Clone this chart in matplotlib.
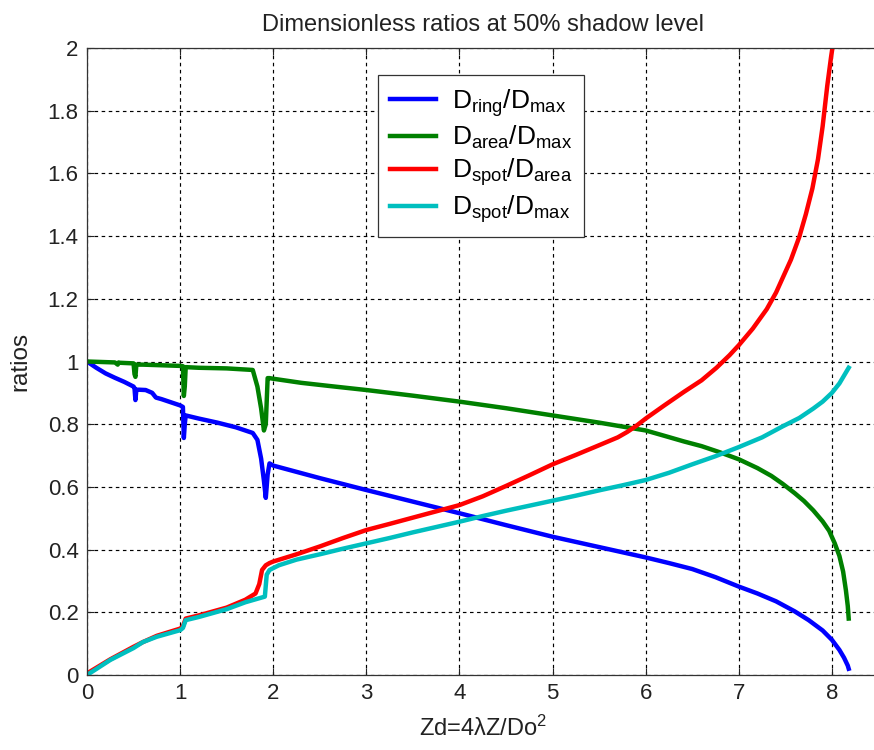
import matplotlib
matplotlib.use("Agg")
import matplotlib.pyplot as plt
from matplotlib.ticker import FixedLocator, FuncFormatter

plt.rcParams['font.family'] = ['Liberation Sans', 'DejaVu Sans']
plt.rcParams['mathtext.fontset'] = 'custom'
plt.rcParams['mathtext.rm'] = 'Liberation Sans'
plt.rcParams['mathtext.it'] = 'Liberation Sans'
plt.rcParams['mathtext.default'] = 'regular'

# ---------------- data ----------------
ring_x = [0, 0.1, 0.2, 0.3, 0.4, 0.5, 0.51, 0.52, 0.53, 0.56, 0.63, 0.7, 0.74, 0.8, 0.9, 1.0,
          1.03, 1.04, 1.05, 1.06, 1.2, 1.4, 1.6, 1.78, 1.83, 1.87, 1.9, 1.92, 1.94, 1.96, 2.0,
          2.5, 3.0, 3.5, 4.0, 4.5, 5.0, 5.5, 6.0, 6.25, 6.5, 6.75, 7.0, 7.2, 7.4, 7.6, 7.75,
          7.9, 8.0, 8.08, 8.13, 8.17, 8.18]
ring_y = [1.0, 0.98, 0.962, 0.948, 0.935, 0.92, 0.915, 0.877, 0.91, 0.91, 0.909, 0.9, 0.885,
          0.88, 0.87, 0.86, 0.855, 0.756, 0.8, 0.828, 0.818, 0.805, 0.79, 0.772, 0.75, 0.69,
          0.62, 0.565, 0.64, 0.675, 0.668, 0.628, 0.59, 0.553, 0.516, 0.478, 0.441, 0.408,
          0.375, 0.357, 0.338, 0.312, 0.282, 0.26, 0.235, 0.203, 0.175, 0.142, 0.112, 0.08,
          0.055, 0.03, 0.02]

area_x = [0, 0.3, 0.33, 0.34, 0.35, 0.5, 0.51, 0.52, 0.53, 0.6, 0.8, 1.0, 1.03, 1.04, 1.05,
          1.06, 1.2, 1.5, 1.78, 1.83, 1.87, 1.9, 1.92, 1.94, 1.96, 2.0, 2.3, 2.6, 3.0, 3.5,
          4.0, 4.5, 5.0, 5.5, 5.8, 6.0, 6.2, 6.41, 6.6, 6.8, 7.0, 7.2, 7.35, 7.47, 7.6, 7.7,
          7.8, 7.9, 7.97, 8.03, 8.08, 8.12, 8.15, 8.17, 8.18]
area_y = [1.0, 0.997, 0.99, 0.997, 0.996, 0.994, 0.96, 0.951, 0.99, 0.99, 0.988, 0.986, 0.985,
          0.89, 0.92, 0.982, 0.98, 0.978, 0.973, 0.92, 0.85, 0.78, 0.8, 0.947, 0.947, 0.945,
          0.932, 0.922, 0.909, 0.891, 0.872, 0.851, 0.828, 0.805, 0.79, 0.78, 0.763, 0.745,
          0.73, 0.71, 0.688, 0.66, 0.635, 0.61, 0.58, 0.555, 0.525, 0.49, 0.46, 0.42, 0.38,
          0.33, 0.27, 0.22, 0.18]

spot_area_x = [0, 0.25, 0.5, 0.6, 0.75, 1.0, 1.03, 1.06, 1.2, 1.5, 1.7, 1.81, 1.85, 1.88,
               1.92, 1.96, 2.0, 2.25, 2.5, 2.75, 3.0, 3.25, 3.5, 3.75, 4.0, 4.25, 4.5, 4.75,
               5.0, 5.25, 5.5, 5.7, 5.8, 5.9, 6.0, 6.2, 6.41, 6.6, 6.76, 6.9, 7.0, 7.15, 7.3,
               7.4, 7.47, 7.56, 7.65, 7.72, 7.79, 7.85, 7.9, 7.95, 7.99, 8.02]
spot_area_y = [0.005, 0.05, 0.09, 0.105, 0.125, 0.148, 0.155, 0.18, 0.19, 0.215, 0.24, 0.26,
               0.29, 0.335, 0.35, 0.357, 0.362, 0.385, 0.41, 0.437, 0.4625, 0.482, 0.502,
               0.522, 0.542, 0.57, 0.603, 0.637, 0.672, 0.702, 0.733, 0.758, 0.775, 0.795,
               0.818, 0.86, 0.903, 0.94, 0.98, 1.02, 1.052, 1.105, 1.167, 1.22, 1.266, 1.325,
               1.398, 1.47, 1.552, 1.645, 1.75, 1.88, 1.97, 2.03]

spot_max_x = [0, 0.25, 0.5, 0.6, 0.75, 1.0, 1.03, 1.06, 1.2, 1.5, 1.7, 1.91, 1.93, 1.96, 2.06,
              2.25, 2.5, 2.75, 3.0, 3.25, 3.5, 3.75, 4.0, 4.25, 4.5, 4.75, 5.0, 5.25, 5.5,
              5.75, 6.0, 6.25, 6.5, 6.75, 7.0, 7.25, 7.47, 7.65, 7.8, 7.9, 8.0, 8.08, 8.13,
              8.18]
spot_max_y = [0.0, 0.048, 0.086, 0.105, 0.122, 0.143, 0.15, 0.175, 0.185, 0.21, 0.232, 0.25,
              0.32, 0.335, 0.35, 0.368, 0.385, 0.403, 0.42, 0.437, 0.455, 0.472, 0.489, 0.507,
              0.524, 0.54, 0.556, 0.572, 0.589, 0.605, 0.622, 0.645, 0.672, 0.698, 0.727,
              0.758, 0.793, 0.82, 0.85, 0.872, 0.9, 0.93, 0.955, 0.98]

labels = [r'$D_{ring}/D_{max}$', r'$D_{area}/D_{max}$',
          r'$D_{spot}/D_{area}$', r'$D_{spot}/D_{max}$']
colors = ['#0000ff', '#008000', '#ff0000', '#00bfbf']

x_ticks = [0, 1, 2, 3, 4, 5, 6, 7, 8]
y_ticks = [0, 0.2, 0.4, 0.6, 0.8, 1.0, 1.2, 1.4, 1.6, 1.8, 2.0]

title = 'Dimensionless ratios at 50% shadow level'
xlabel = r'Zd=4λZ/Do$^2$'
ylabel = 'ratios'

# ---------------- figure ----------------
fig = plt.figure(figsize=(8.74, 7.5), dpi=100)
ax = fig.add_axes([87 / 874, 75 / 750, (878.5 - 87) / 874, (675 - 48) / 750])

series = [(ring_x, ring_y), (area_x, area_y), (spot_area_x, spot_area_y), (spot_max_x, spot_max_y)]
for (xs, ys), c, lab in zip(series, colors, labels):
    ax.plot(xs, ys, color=c, lw=3.2, label=lab, solid_joinstyle='round')

ax.set_xlim(0, 8.5)
ax.set_ylim(0, 2)
ax.xaxis.set_major_locator(FixedLocator(x_ticks))
ax.yaxis.set_major_locator(FixedLocator(y_ticks))
ax.yaxis.set_major_formatter(FuncFormatter(lambda v, p: '%g' % v))
ax.xaxis.set_major_formatter(FuncFormatter(lambda v, p: '%g' % v))
ax.tick_params(direction='in', length=5, width=0.8, top=True, right=False,
               labelsize=16, colors='#222222', pad=6)
ax.grid(True, color='black', linestyle=(0, (3, 3)), linewidth=0.85)
for s in ax.spines.values():
    s.set_color('#333333')
    s.set_linewidth(0.9)
ax.spines['right'].set_visible(False)

ax.set_title(title, fontsize=17, color='#222222', pad=12)
ax.set_xlabel(xlabel, fontsize=17, color='#222222', labelpad=8)
ax.set_ylabel(ylabel, fontsize=17.5, color='#222222', labelpad=12)

leg = ax.legend(loc='upper left', bbox_to_anchor=((378 - 87) / (878.5 - 87), (675 - 75) / 627),
                borderaxespad=0, fancybox=False, framealpha=1, edgecolor='#333333',
                fontsize=19, handlelength=1.75, handletextpad=0.6, labelspacing=0.2,
                borderpad=0.45)
leg.get_frame().set_linewidth(0.9)

fig.savefig('out.png', dpi=100, facecolor='white')
